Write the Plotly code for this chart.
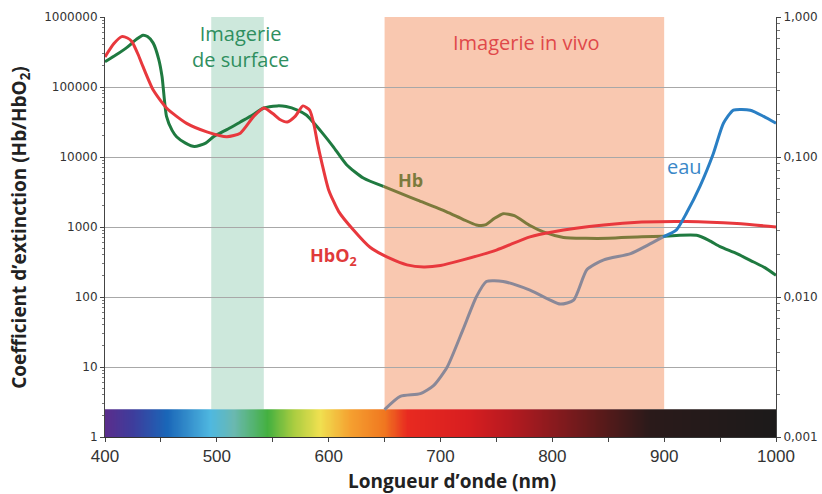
import plotly.graph_objects as go

# ---- data ----
hb_nm = [400, 410, 420, 428, 434, 438, 443, 448, 451, 455, 460, 464, 472, 480, 490, 497, 510, 521, 532, 542,
         554, 562, 572, 580, 586, 595, 604, 616, 631, 649, 666, 680, 705, 720, 732, 740, 748, 756, 766, 780,
         792, 810, 830, 850, 880, 900, 929, 940, 950, 965, 980, 990, 1000]
hb_val = [229000, 288000, 372000, 479000, 550000, 525000, 427000, 251000, 141000, 38000, 24000, 19500, 15800,
          14100, 15800, 19500, 25100, 31600, 39800, 50100, 53700, 52500, 46800, 39800, 31600, 21400, 14100,
          7760, 5010, 3800, 2950, 2400, 1660, 1290, 1070, 1070, 1320, 1550, 1450, 1050, 850, 710, 690, 690,
          725, 740, 760, 645, 525, 417, 316, 263, 204]

hbo2_nm = [400, 408, 415, 420, 424, 430, 434, 443, 455, 473, 491, 509, 521, 533, 542, 550, 556, 563, 570, 577,
           583, 587, 590, 594, 600, 609, 622, 637, 655, 670, 685, 700, 720, 750, 780, 800, 846, 880, 920, 965, 1000]
hbo2_val = [269000, 417000, 525000, 501000, 447000, 282000, 195000, 91200, 50100, 30200, 22900, 19500, 21900,
            38000, 50100, 41700, 34700, 31600, 38000, 53700, 46800, 28200, 15800, 8130, 3390, 1660, 912, 513,
            355, 288, 269, 282, 339, 468, 724, 851, 1070, 1175, 1200, 1120, 1000]

water_nm = [650, 664, 682, 694, 706, 720, 732, 741, 756, 780, 807, 819, 831, 846, 870, 885, 899, 911, 920, 932,
            944, 953, 962, 977, 989, 1000]
water_val = [0.00157, 0.00195, 0.00204, 0.00234, 0.00316, 0.00582, 0.0100, 0.0129, 0.0129, 0.0112, 0.0089,
             0.0095, 0.0157, 0.0184, 0.0204, 0.0234, 0.0269, 0.0302, 0.0398, 0.0617, 0.106, 0.174, 0.216,
             0.216, 0.195, 0.174]

left_ticks = [1, 10, 100, 1000, 10000, 100000, 1000000]
left_labels = ["1", "10", "100", "1000", "10000", "100000", "1000000"]
right_ticks = [0.001, 0.01, 0.1, 1]
right_labels = ["0,001", "0,010", "0,100", "1,000"]
x_ticks = [400, 500, 600, 700, 800, 900, 1000]

# spectrum colour stops (nm, colour)
spec_nm = [400, 425, 455, 494, 515, 545, 568, 592, 619, 649, 670, 724, 760, 800, 843, 887, 1000]
spec_col = ["#5a2d8c", "#3d3d9c", "#1a66b8", "#4fb8e0", "#6ab8b0", "#44b040", "#a8cc40", "#f0e050",
            "#f5a030", "#f07820", "#e82a20", "#d81e20", "#b81a20", "#8a1a1e", "#5a1a1a", "#2a1a1a", "#1c1a1a"]

surface_band = [495, 542]
vivo_band = [650, 900]
spectrum_top = 2.49

left_minor = [m * 10 ** k for k in range(0, 6) for m in range(2, 10)]
right_minor = [m * 10 ** k for k in range(-3, 0) for m in range(2, 10)]

# ---- figure ----
fig = go.Figure()

spec_x = list(range(400, 1001, 2))
fig.add_trace(go.Heatmap(
    x=spec_x, y=[1, spectrum_top], z=[spec_x],
    colorscale=[[(n - 400) / 600, c] for n, c in zip(spec_nm, spec_col)],
    zmin=400, zmax=1000, showscale=False, zsmooth="best", hoverinfo="skip"))

split = 900
hb_green1 = [(n, v) for n, v in zip(hb_nm, hb_val) if n <= 649]
hb_olive = [(n, v) for n, v in zip(hb_nm, hb_val) if 649 <= n <= split]
hb_green2 = [(n, v) for n, v in zip(hb_nm, hb_val) if n >= split]

for seg, col in [(hb_green1, "#1f7a40"), (hb_olive, "#7c7a3c"), (hb_green2, "#1f7a40")]:
    fig.add_trace(go.Scatter(x=[p[0] for p in seg], y=[p[1] for p in seg], mode="lines",
                             line=dict(color=col, width=3, shape="spline", smoothing=0.6),
                             showlegend=False))

fig.add_trace(go.Scatter(x=hbo2_nm, y=hbo2_val, mode="lines",
                         line=dict(color="#e8383d", width=3, shape="spline", smoothing=0.6),
                         showlegend=False))

w_grey = [(n, v) for n, v in zip(water_nm, water_val) if n <= 899]
w_blue = [(n, v) for n, v in zip(water_nm, water_val) if n >= 899]
fig.add_trace(go.Scatter(x=[p[0] for p in w_grey], y=[p[1] for p in w_grey], mode="lines", yaxis="y2",
                         line=dict(color="#8a8898", width=3, shape="spline", smoothing=0.6), showlegend=False))
fig.add_trace(go.Scatter(x=[p[0] for p in w_blue], y=[p[1] for p in w_blue], mode="lines", yaxis="y2",
                         line=dict(color="#2a7fc4", width=3, shape="spline", smoothing=0.6), showlegend=False))

shapes = [
    dict(type="rect", xref="x", yref="y", x0=surface_band[0], x1=surface_band[1], y0=spectrum_top, y1=1e6,
         fillcolor="#cde8dc", line=dict(width=0), layer="below"),
    dict(type="rect", xref="x", yref="y", x0=vivo_band[0], x1=vivo_band[1], y0=spectrum_top, y1=1e6,
         fillcolor="#f9c8b0", line=dict(width=0), layer="below"),
]

annotations = [
    dict(x=521.5, y=5.58, xref="x", yref="y", text="Imagerie<br>de surface", showarrow=False,
         font=dict(family="Open Sans", size=20, color="#2f8f5f"), align="center"),
    dict(x=777, y=5.63, xref="x", yref="y", text="Imagerie in vivo", showarrow=False,
         font=dict(family="Open Sans", size=20, color="#e0484a")),
    dict(x=673, y=3.67, xref="x", yref="y", text="<b>Hb</b>", showarrow=False,
         font=dict(family="Open Sans", size=18, color="#7c7a3c")),
    dict(x=604, y=2.58, xref="x", yref="y", text="<b>HbO<sub>2</sub></b>", showarrow=False,
         font=dict(family="Open Sans", size=18, color="#e03a3a")),
    dict(x=918, y=3.86, xref="x", yref="y", text="eau", showarrow=False,
         font=dict(family="Open Sans", size=20, color="#3a88c8")),
    dict(x=0.517, y=-0.105, xref="paper", yref="paper", text="<b>Longueur d’onde (nm)</b>", showarrow=False,
         xanchor="center", yanchor="middle", font=dict(family="Open Sans", size=19, color="#222")),
    dict(x=-0.127, y=0.5, xref="paper", yref="paper", text="<b>Coefficient d’extinction (Hb/HbO<sub>2</sub>)</b>",
         showarrow=False, textangle=-90, xanchor="center", yanchor="middle",
         font=dict(family="Open Sans", size=19, color="#222")),
]

fig.update_layout(
    width=822, height=494,
    margin=dict(l=105, r=46, t=17, b=57, autoexpand=False),
    paper_bgcolor="white", plot_bgcolor="white",
    shapes=shapes, annotations=annotations,
    showlegend=False,
    xaxis=dict(range=[400, 1000], tickvals=x_ticks, ticks="outside", ticklen=4, tickcolor="#444",
               showline=True, linecolor="#333", linewidth=1, showgrid=False, zeroline=False,
               automargin=False,
               tickfont=dict(family="Liberation Sans", size=17, color="#333"),
               minor=dict(dtick=50, ticks="outside", ticklen=4, tickcolor="#444", showgrid=False)),
    yaxis=dict(type="log", range=[0, 6], tickvals=left_ticks, ticktext=left_labels,
               ticks="outside", ticklen=4, tickcolor="#444", showline=True, linecolor="#444",
               showgrid=True, gridcolor="#a8a8a8", gridwidth=1, zeroline=False, automargin=False,
               tickfont=dict(family="DejaVu Sans", size=12, color="#333"),
               minor=dict(tickmode="array", tickvals=left_minor, ticks="outside", ticklen=2,
                          tickcolor="#777", showgrid=False)),
    yaxis2=dict(type="log", range=[-3, 0], overlaying="y", side="right", tickvals=right_ticks,
                ticktext=right_labels, ticks="outside", ticklen=4, tickcolor="#444", showline=True,
                linecolor="#444", showgrid=False, zeroline=False, automargin=False,
                tickfont=dict(family="DejaVu Sans", size=12, color="#333"),
                minor=dict(tickmode="array", tickvals=right_minor, ticks="outside", ticklen=3,
                           tickcolor="#777", showgrid=False)),
)

fig.write_html("out.html", config={"displayModeBar": False},
               post_script="document.body.style.margin='0';")
